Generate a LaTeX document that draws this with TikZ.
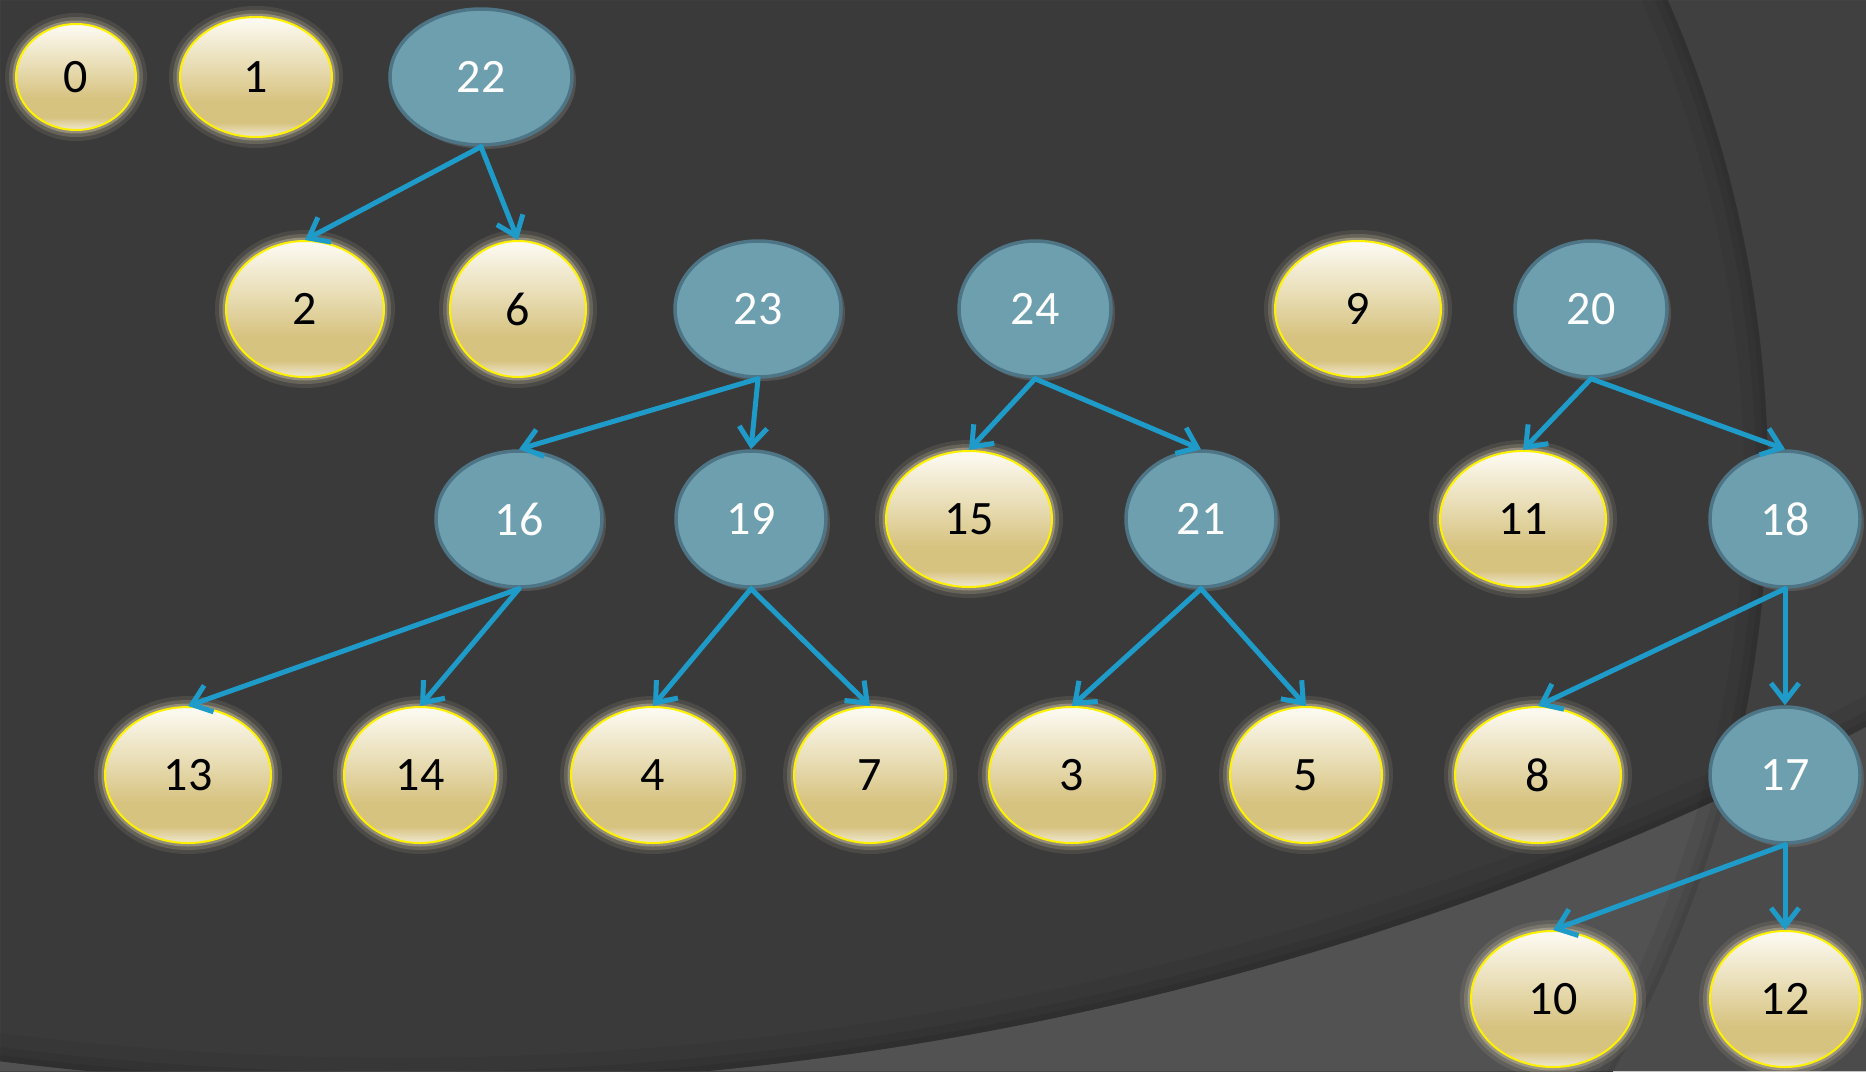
\documentclass[tikz,border=0pt]{standalone}
\usepackage{fontspec}
\setmainfont{Carlito}
\usetikzlibrary{shapes.geometric,arrows.meta,shadows}

\definecolor{bgdark}{RGB}{58,58,58}
\definecolor{bgright}{RGB}{64,64,64}
\definecolor{bglow}{RGB}{82,82,82}
\definecolor{bglowright}{RGB}{75,75,75}
\definecolor{edgeblue}{RGB}{30,155,200}
\definecolor{innerfill}{RGB}{109,159,175}
\definecolor{innerline}{RGB}{78,117,133}
\definecolor{leaftop}{RGB}{253,251,244}
\definecolor{leafmid}{RGB}{233,222,183}
\definecolor{leafgold}{RGB}{215,195,128}
\definecolor{leafbot}{RGB}{240,233,210}
\definecolor{leafglow}{RGB}{232,222,184}

\pgfdeclareverticalshading{leafshade}{100bp}{color(0bp)=(leafbot); color(25bp)=(leafbot); color(31bp)=(leafgold); color(40bp)=(leafgold); color(56bp)=(leafmid); color(75bp)=(leaftop); color(100bp)=(leaftop)}

\begin{document}
\begin{tikzpicture}[x=1pt,y=-1pt,
    leaf/.style={ellipse, minimum width=#1, minimum height=136pt, inner sep=0pt,
      shade, shading=leafshade, draw=yellow, line width=2pt,
      preaction={draw=leafglow, line width=22pt, draw opacity=0.10},
      preaction={draw=leafglow, line width=14pt, draw opacity=0.18},
      preaction={draw=leafglow, line width=7pt, draw opacity=0.35},
      font=\fontsize{48}{52}\selectfont, text=black},
    leaf/.default=166pt,
    inner/.style={ellipse, minimum width=#1, minimum height=136pt, inner sep=0pt,
      fill=innerfill, draw=innerline, line width=3.5pt,
      drop shadow={shadow xshift=4pt, shadow yshift=-4pt, opacity=0.35},
      font=\fontsize{48}{52}\selectfont, text=white},
    inner/.default=150pt,
    link/.style={draw=edgeblue, line width=5pt, line cap=round,
      -{Straight Barb[length=18pt,width=28pt]}}]
  \useasboundingbox (0,0) rectangle (1866,1071);
  \clip (0,0) rectangle (1866,1071);
  % background
  \fill[bgdark] (0,0) rectangle (1866,1071);
  \fill[bgright, even odd rule] (0,0) rectangle (1866,1071) (568,481) circle (1200pt);
  \fill[bglow, even odd rule] (0,0) rectangle (1866,1071) (398,-2089) circle (3175pt);
  \begin{scope}[even odd rule]
    \clip (0,0) rectangle (1866,1071) (568,481) circle (1200pt);
    \fill[bglowright] (0,0) rectangle (1866,1071) (398,-2089) circle (3175pt);
  \end{scope}
  \draw[black, opacity=0.05, line width=24pt] (568,481) circle (1188pt);
  \draw[black, opacity=0.06, line width=12pt] (568,481) circle (1194pt);
  \draw[black, opacity=0.06, line width=5pt] (568,481) circle (1197.5pt);
  \draw[black, opacity=0.05, line width=28pt] (398,-2089) circle (3161pt);
  \draw[black, opacity=0.07, line width=14pt] (398,-2089) circle (3168pt);
  \draw[black, opacity=0.07, line width=6pt] (398,-2089) circle (3172pt);

  % top row
  \node[leaf=120pt, minimum height=106pt] (n0) at (76,77) {0};
  \node[leaf=152pt, minimum height=120pt] (n1) at (256,77) {1};
  \node[inner=182pt] (n22) at (481,77) {22};

  % second row
  \node[leaf=158pt] (n2) at (305,309) {2};
  \node[leaf=136pt] (n6) at (518,309) {6};
  \node[inner=166pt] (n23) at (758,309) {23};
  \node[inner=152pt] (n24) at (1035,309) {24};
  \node[leaf] (n9) at (1358,309) {9};
  \node[inner=152pt] (n20) at (1591,309) {20};

  % third row
  \node[inner=166pt] (n16) at (519,519) {16};
  \node[inner] (n19) at (751,519) {19};
  \node[leaf] (n15) at (969,519) {15};
  \node[inner] (n21) at (1201,519) {21};
  \node[leaf] (n11) at (1523,519) {11};
  \node[inner] (n18) at (1785,519) {18};

  % fourth row
  \node[leaf] (n13) at (188,775) {13};
  \node[leaf=152pt] (n14) at (420,775) {14};
  \node[leaf=164pt] (n4) at (653,775) {4};
  \node[leaf=152pt] (n7) at (870,775) {7};
  \node[leaf] (n3) at (1072,775) {3};
  \node[leaf=152pt] (n5) at (1306,775) {5};
  \node[leaf] (n8) at (1538,775) {8};
  \node[inner] (n17) at (1785,775) {17};

  % last row
  \node[leaf=164pt] (n10) at (1553,999) {10};
  \node[leaf=150pt] (n12) at (1785,999) {12};

  \draw[link] (n22.south) -- (n2.north);
  \draw[link] (n22.south) -- (n6.north);
  \draw[link] (n23.south) -- (n16.north);
  \draw[link] (n23.south) -- (n19.north);
  \draw[link] (n24.south) -- (n15.north);
  \draw[link] (n24.south) -- (n21.north);
  \draw[link] (n20.south) -- (n11.north);
  \draw[link] (n20.south) -- (n18.north);
  \draw[link] (n16.south) -- (n13.north);
  \draw[link] (n16.south) -- (n14.north);
  \draw[link] (n19.south) -- (n4.north);
  \draw[link] (n19.south) -- (n7.north);
  \draw[link] (n21.south) -- (n3.north);
  \draw[link] (n21.south) -- (n5.north);
  \draw[link] (n18.south) -- (n8.north);
  \draw[link] (n18.south) -- (n17.north);
  \draw[link] (n17.south) -- (n10.north);
  \draw[link] (n17.south) -- (n12.north);
\end{tikzpicture}
\end{document}
